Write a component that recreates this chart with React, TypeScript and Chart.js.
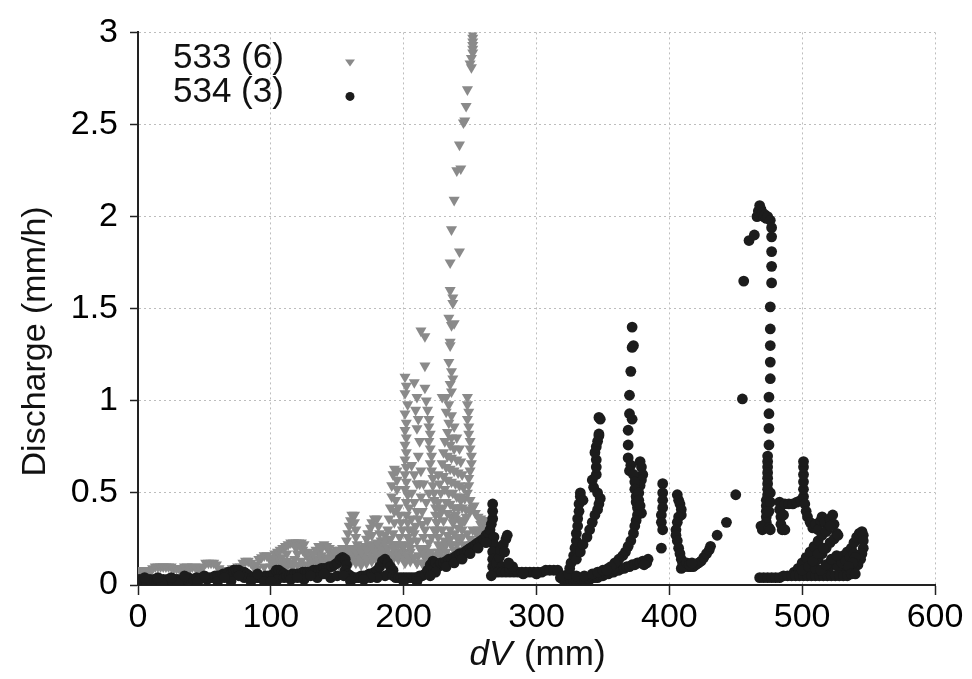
import { useEffect, useRef } from 'react';
import { Chart, registerables } from 'chart.js';

Chart.register(...registerables);

const seriesNames = ['533 (6)', '534 (3)'];
const xTitleItalic = 'dV';
const xTitleRest = ' (mm)';
const yTitle = 'Discharge (mm/h)';
const xMin = 0, xMax = 600, xStep = 100;
const yMin = 0, yMax = 3, yStep = 0.5;

type P = [number, number];

// ---- Series 533 (6): grey down-triangles ----
const g533Low: P[] = [
  [0,0.06],[1,0.08],[3,0.05],[4,0.07],[6,0.06],[7,0.08],[9,0.07],[11,0.09],[13,0.1],[15,0.1],[17,0.1],[19,0.1],
  [21,0.1],[23,0.1],[25,0.1],[27,0.09],[29,0.09],[31,0.09],[33,0.09],[35,0.1],[37,0.1],[39,0.09],[41,0.1],[43,0.1],
  [45,0.08],[47,0.09],[49,0.1],[51,0.12],[53,0.12],[55,0.12],[57,0.12],[59,0.11],[61,0.09],[63,0.08],[65,0.08],
  [67,0.08],[69,0.08],[71,0.09],[73,0.09],[75,0.1],[77,0.1],[79,0.12],[81,0.13],[83,0.13],[85,0.12],[87,0.1],
  [89,0.11],[91,0.14],[93,0.15],[95,0.16],[97,0.16],[99,0.15],[101,0.14],[103,0.17],[105,0.18],[107,0.19],
  [109,0.2],[111,0.21],[113,0.22],[115,0.23],[117,0.23],[119,0.23],[121,0.23],[123,0.23],[125,0.22],[119,0.2],
  [120,0.17],[118,0.14],[116,0.12],[110,0.12],[105,0.12],[100,0.1],[95,0.1],[90,0.09],[124,0.19],[126,0.17],
  [128,0.15],[104,0.14],[108,0.15],[112,0.17],[112,0.13],[123,0.13],[126,0.11],
];
const g533Mid: P[] = [
  [130,0.13],[132,0.12],[134,0.14],[136,0.17],[138,0.2],[140,0.22],[142,0.21],[144,0.18],[146,0.15],[148,0.13],
  [150,0.12],[152,0.13],[154,0.16],[156,0.2],[157,0.24],[158,0.28],[159,0.32],[160,0.35],[161,0.38],[163,0.38],
  [163,0.34],[164,0.3],[164,0.26],[165,0.22],[166,0.18],[168,0.15],[170,0.17],[171,0.21],[172,0.25],[173,0.28],
  [175,0.31],[176,0.34],[178,0.36],[180,0.36],[181,0.32],[182,0.28],[183,0.24],[184,0.21],[186,0.2],[187,0.24],
  [188,0.3],[189,0.36],[190,0.42],[191,0.48],[191,0.54],[192,0.6],[193,0.63],[195,0.62],[195,0.57],[195,0.52],
  [194,0.46],[193,0.4],[193,0.34],[192,0.28],[191,0.22],[190,0.17],
  [132,0.09],[136,0.1],[140,0.1],[144,0.11],[148,0.1],[152,0.1],[156,0.11],[160,0.12],[164,0.12],[168,0.11],
  [172,0.12],[176,0.13],[180,0.13],[184,0.14],[188,0.13],[192,0.14],[196,0.14],[200,0.15],[140,0.15],[145,0.14],
  [150,0.16],[170,0.15],[175,0.18],[178,0.22],[180,0.2],[185,0.17],[196,0.18],[198,0.22],
  [130,0.16],[134,0.19],[138,0.16],[142,0.14],[146,0.18],[150,0.19],[154,0.12],[158,0.16],[162,0.2],[166,0.14],
  [170,0.2],[174,0.22],[178,0.18],[182,0.16],[186,0.16],[190,0.25],[194,0.22],[197,0.26],[199,0.3],[198,0.34],
  [197,0.38],[196,0.42],[186,0.27],[185,0.24],[176,0.27],[168,0.2],[162,0.16],[158,0.2],[154,0.2],
];
const g533Fill: P[] = [
  [100,0.13],[104,0.12],[108,0.11],[112,0.1],[116,0.1],[120,0.11],[124,0.1],[128,0.11],[132,0.12],[136,0.13],
  [140,0.12],[144,0.13],[148,0.15],[152,0.15],[156,0.14],[160,0.15],[164,0.14],[168,0.13],[172,0.14],[176,0.15],
  [180,0.16],[184,0.17],[188,0.16],[192,0.17],[196,0.16],[200,0.18],
  [128,0.18],[132,0.17],[136,0.21],[144,0.2],[148,0.18],[152,0.19],[156,0.17],[160,0.19],[164,0.18],[168,0.18],
  [172,0.19],[176,0.21],[180,0.23],[184,0.19],[188,0.2],[192,0.2],[196,0.22],[200,0.21],
];
const g533Columns: P[] = [
  [201,1.13],[202,1.08],[201,1.04],[203,0.98],[201,0.93],[202,0.88],[201,0.84],[202,0.8],[201,0.76],[202,0.72],
  [201,0.68],[202,0.64],[201,0.6],[202,0.56],[201,0.52],[203,0.49],[202,0.45],[204,0.42],[202,0.38],[203,0.34],
  [204,0.3],[203,0.26],[204,0.22],[205,0.18],[206,0.15],
  [208,1.1],[210,1.02],[209,0.95],[211,0.9],[210,0.85],[212,0.78],[211,0.7],[213,0.62],[212,0.55],[213,0.48],
  [214,0.4],[214,0.33],[215,0.26],[216,0.2],[216,0.15],
  [213,1.38],[216,1.35],[216,1.19],[216,1.07],[217,1.0],[218,0.95],[219,0.9],[219,0.86],[220,0.82],[219,0.78],
  [220,0.74],[221,0.7],[220,0.66],[221,0.62],[222,0.58],[222,0.54],[223,0.5],[223,0.46],[224,0.42],[224,0.38],
  [225,0.34],[225,0.3],[226,0.26],[226,0.22],[227,0.18],[227,0.15],
];
const g533Mass: P[] = [
  [229,1.02],[232,1.02],[234,0.98],[232,0.94],[236,0.92],[234,0.88],[238,0.86],[233,0.83],[236,0.8],[240,0.8],
  [231,0.78],[235,0.76],[238,0.74],[242,0.74],[230,0.72],[233,0.7],[236,0.69],[240,0.68],[243,0.67],[229,0.66],
  [232,0.64],[235,0.63],[238,0.62],[241,0.61],[244,0.6],[230,0.59],[233,0.57],[236,0.56],[239,0.55],[242,0.54],
  [245,0.53],[231,0.52],[234,0.5],[237,0.5],[240,0.48],[243,0.48],[246,0.47],[232,0.45],[235,0.44],[238,0.42],
  [241,0.42],[244,0.42],[247,0.41],[233,0.39],[236,0.37],[239,0.36],[242,0.35],
  [248,1.02],[248,0.98],[249,0.94],[248,0.9],[249,0.86],[249,0.82],[250,0.78],[250,0.74],[251,0.7],[251,0.66],
  [250,0.62],[249,0.58],[249,0.54],[248,0.5],
  [206,0.5],[208,0.45],[210,0.4],[206,0.36],[208,0.6],[210,0.55],[206,0.65],[215,0.55],[217,0.45],[218,0.35],
  [216,0.3],[219,0.5],[226,0.45],[228,0.5],[227,0.55],[228,0.4],[229,0.3],[230,0.35],[226,0.6],
];
const g533Tower: P[] = [
  [252,2.99],[252,2.97],[252,2.95],[252,2.93],[252,2.91],[252,2.89],[251,2.86],[250,2.83],[251,2.81],[248,2.69],
  [247,2.6],[245,2.51],[246,2.52],[242,2.39],[240,2.25],[243,2.26],[238,2.09],[236,1.93],[242,1.81],[235,1.75],
  [235,1.6],[237,1.56],[237,1.53],[234,1.45],[236,1.41],[238,1.42],[235,1.32],[235,1.3],[234,1.21],[236,1.16],
  [237,1.12],[235,1.09],[236,1.05],
];
const g533Tail: P[] = [
  [250,0.46],[252,0.42],[254,0.39],[256,0.37],[258,0.36],[260,0.35],[262,0.35],[264,0.35],[265,0.34],
  [263,0.3],[260,0.28],[257,0.26],[254,0.24],[251,0.22],[248,0.2],[245,0.18],[242,0.17],[239,0.15],[236,0.14],
  [233,0.13],[230,0.12],
  [243,0.46],[241,0.42],[239,0.38],[237,0.34],[235,0.3],[233,0.27],[231,0.24],[229,0.21],[226,0.18],[223,0.16],
  [220,0.14],[217,0.12],
  [211,0.36],[209,0.32],[208,0.28],[206,0.24],[205,0.2],[203,0.16],[201,0.12],
  [246,0.35],[244,0.3],[242,0.26],[240,0.22],[238,0.19],
  [205,0.13],[210,0.12],[215,0.11],[220,0.11],[225,0.12],[230,0.14],[235,0.16],[240,0.19],[245,0.22],[250,0.25],
  [255,0.28],[260,0.31],
  [253,0.43],[250,0.4],[247,0.37],[244,0.34],[241,0.31],[238,0.28],[235,0.25],[232,0.22],[229,0.19],[226,0.16],
  [222,0.14],[218,0.13],[214,0.12],[210,0.12],
  [229,0.42],[227,0.38],[225,0.34],[223,0.3],[221,0.26],[219,0.23],[217,0.2],[214,0.18],[211,0.16],[208,0.15],
  [258,0.33],[262,0.32],[256,0.3],[252,0.3],[248,0.28],[244,0.26],[240,0.26],[236,0.22],[232,0.18],[228,0.15],
  [224,0.14],[220,0.18],[216,0.16],[212,0.2],[210,0.24],[207,0.3],
];

// ---- Series 534 (3): black dots ----
const b534Base1: P[] = [
  [0,0.02],[1,0.03],[3,0.02],[4,0.03],[6,0.02],[7,0.01],[9,0.03],[10,0.02],[12,0.03],[14,0.02],[15,0.03],[17,0.02],
  [19,0.03],[20,0.02],[22,0.03],[24,0.03],[26,0.02],[28,0.03],[30,0.03],[32,0.02],[34,0.03],[36,0.03],[38,0.04],
  [40,0.03],[42,0.03],[44,0.04],[46,0.03],[48,0.04],[50,0.04],[52,0.03],[54,0.04],[56,0.04],[58,0.05],[60,0.05],
  [62,0.05],[64,0.06],[66,0.06],[68,0.07],[70,0.06],[72,0.08],[74,0.08],[76,0.08],[78,0.07],[80,0.07],[82,0.06],
  [84,0.05],[80,0.04],[76,0.05],[86,0.04],[88,0.04],[90,0.04],[92,0.04],[94,0.04],[96,0.05],[98,0.05],[100,0.05],
  [102,0.06],[104,0.08],[106,0.08],[108,0.07],[110,0.06],[18,0.01],[30,0.01],[45,0.02],[60,0.02],[70,0.02],
  [85,0.02],[95,0.02],[105,0.03],
  [5,0.04],[15,0.04],[25,0.04],[35,0.05],[50,0.05],[65,0.04],[90,0.06],[110,0.04],[100,0.02],
];
const b534Base2: P[] = [
  [112,0.05],[114,0.05],[116,0.06],[118,0.06],[120,0.06],[122,0.06],[124,0.07],[126,0.07],[128,0.07],[130,0.07],
  [132,0.08],[134,0.08],[136,0.08],[138,0.09],[140,0.09],[142,0.09],[144,0.1],[146,0.1],[148,0.11],[150,0.12],
  [152,0.14],[154,0.15],[156,0.14],[157,0.11],[156,0.08],[158,0.06],[160,0.05],[162,0.04],[164,0.04],[166,0.04],
  [168,0.05],[170,0.05],[172,0.05],[174,0.06],[176,0.06],[178,0.07],[180,0.08],[182,0.1],[184,0.13],[186,0.14],
  [188,0.12],[190,0.1],[192,0.08],[189,0.06],[186,0.05],[192,0.05],[194,0.04],[196,0.04],[198,0.04],[200,0.04],
  [202,0.04],[204,0.04],[206,0.04],[208,0.04],[210,0.04],[212,0.05],[214,0.05],[216,0.06],[218,0.08],[220,0.11],
  [222,0.13],[224,0.12],[226,0.1],[224,0.07],[220,0.05],[125,0.03],[135,0.04],[145,0.04],[150,0.05],[155,0.05],
  [115,0.03],[180,0.04],[175,0.04],[120,0.04],[130,0.05],[140,0.06],[160,0.02],[170,0.03],[200,0.02],[210,0.02],
];
const b534Rise: P[] = [
  [228,0.12],[230,0.12],[232,0.13],[234,0.14],[236,0.14],[238,0.15],[240,0.16],[242,0.17],[244,0.17],[246,0.18],
  [248,0.19],[250,0.2],[252,0.21],[254,0.22],[256,0.23],[258,0.24],[260,0.25],[262,0.27],[264,0.28],[265,0.3],
  [266,0.33],[267,0.36],[267,0.4],[267,0.44],[268,0.26],[268,0.22],[267,0.18],[267,0.14],[267,0.1],[270,0.12],
  [272,0.15],[273,0.19],[275,0.22],[277,0.25],[278,0.27],[276,0.18],[274,0.1],[268,0.07],[271,0.07],[274,0.07],
  [277,0.07],[280,0.07],[283,0.07],[286,0.07],[289,0.07],[292,0.07],[295,0.07],[298,0.07],[301,0.07],[304,0.07],
  [307,0.08],[310,0.08],[313,0.08],[316,0.08],[280,0.09],[282,0.1],[279,0.12],[266,0.05],[290,0.06],[300,0.06],
  [232,0.1],[238,0.12],[244,0.14],[250,0.17],[256,0.2],[262,0.23],
];
const b534Peaks23: P[] = [
  [318,0.04],[320,0.03],[322,0.02],[324,0.02],[326,0.02],[328,0.02],[330,0.02],[332,0.03],[334,0.03],[336,0.03],
  [338,0.03],[340,0.03],[342,0.04],[344,0.04],[346,0.04],[348,0.05],[350,0.05],[352,0.06],[354,0.06],[356,0.07],
  [358,0.07],[360,0.08],[362,0.08],[364,0.09],[366,0.09],[368,0.1],[370,0.1],[372,0.11],[374,0.11],[376,0.12],
  [378,0.12],[380,0.13],[382,0.13],[384,0.14],[320,0.05],[324,0.06],[330,0.05],[336,0.05],[342,0.06],[346,0.07],
  [350,0.08],[354,0.09],[358,0.09],
  [325,0.09],[326,0.12],[328,0.16],[329,0.2],[330,0.24],[330,0.28],[331,0.32],[331,0.36],[332,0.4],[332,0.44],
  [333,0.48],[333,0.5],[335,0.46],
  [330,0.14],[333,0.18],[335,0.22],[338,0.26],[340,0.3],[342,0.34],[344,0.38],[346,0.41],[347,0.44],[348,0.47],
  [346,0.5],[343,0.53],[342,0.57],[345,0.6],[345,0.64],[345,0.68],[344,0.72],[345,0.75],[347,0.82],[347,0.81],
  [346,0.78],[347,0.91],[348,0.9],
  [372,1.4],[373,1.3],[372,1.29],[371,1.16],[370,1.03],[370,0.93],[372,0.9],[369,0.84],[369,0.76],[369,0.69],
  [371,0.65],[370,0.62],[378,0.67],[379,0.64],[380,0.6],[379,0.57],[378,0.54],[373,0.6],[374,0.56],[374,0.52],
  [375,0.48],[375,0.45],[376,0.42],[377,0.5],[377,0.46],[378,0.43],[379,0.39],[376,0.38],[375,0.35],[374,0.32],
  [373,0.28],[371,0.24],[369,0.21],[367,0.18],[365,0.16],[362,0.14],[359,0.12],[356,0.1],[353,0.08],[383,0.12],
  [381,0.11],
];
const b534Peak4: P[] = [
  [395,0.55],[395,0.5],[395,0.46],[395,0.42],[394,0.38],[394,0.34],[395,0.3],[394,0.2],[406,0.49],[407,0.46],
  [408,0.44],[409,0.41],[409,0.38],[407,0.37],[406,0.34],[405,0.3],[405,0.27],[406,0.24],[407,0.2],[408,0.17],
  [409,0.14],[410,0.12],[412,0.11],[414,0.1],[416,0.1],[418,0.1],[420,0.11],[422,0.12],[424,0.13],[426,0.15],
  [428,0.17],[430,0.19],[431,0.21],[436,0.27],[443,0.34],[450,0.49],[409,0.09],[411,0.1],[413,0.12],[415,0.11],
  [417,0.12],
];
const b534Peak5: P[] = [
  [455,1.01],[456,1.65],[460,1.87],[464,1.9],[466,2.0],[467,2.03],[468,2.06],[469,2.04],[470,2.02],[471,2.0],
  [472,2.01],[473,1.99],[474,2.0],[476,1.98],[477,1.94],[477,1.89],[477,1.81],[477,1.73],[477,1.64],[476,1.51],
  [476,1.39],[476,1.3],[476,1.21],[476,1.12],[475,1.02],[475,0.93],[475,0.85],[475,0.76],[474,0.7],[474,0.67],
  [474,0.64],[474,0.61],[474,0.58],[474,0.55],[474,0.52],[474,0.49],[473,0.46],[473,0.43],[473,0.4],[473,0.37],
  [473,0.34],[472,0.31],[470,0.3],[469,0.32],[475,0.31],[476,0.3],[476,0.5],[476,0.45],[475,0.4],
];
const b534Peak6: P[] = [
  [483,0.45],[483,0.41],[484,0.37],[484,0.33],[485,0.3],[487,0.3],[486,0.38],[487,0.44],[490,0.44],[493,0.44],
  [496,0.45],[499,0.46],[501,0.48],[501,0.52],[501,0.56],[501,0.6],[501,0.64],[501,0.67],[502,0.44],[503,0.4],
  [504,0.37],[506,0.34],[508,0.31],[510,0.33],[512,0.3],[514,0.35],[515,0.37],[517,0.34],[519,0.3],[521,0.36],
  [523,0.38],[524,0.33],[526,0.28],
  [494,0.07],[497,0.09],[500,0.12],[503,0.15],[506,0.18],[509,0.21],[512,0.24],[515,0.27],[518,0.29],[521,0.32],
  [503,0.06],[506,0.08],[509,0.11],[512,0.14],[515,0.17],[518,0.2],[521,0.23],[524,0.25],[527,0.27],
  [516,0.07],[520,0.09],[524,0.12],[528,0.14],[531,0.16],[534,0.18],[537,0.2],[539,0.23],[541,0.26],[543,0.28],
  [545,0.29],[546,0.27],[546,0.24],[546,0.2],[545,0.17],[544,0.14],[542,0.11],[539,0.09],[536,0.07],[532,0.07],
  [527,0.1],[530,0.12],[533,0.13],[536,0.15],[539,0.17],[540,0.15],[538,0.12],[535,0.1],
  [468,0.04],[471,0.04],[474,0.04],[477,0.04],[480,0.04],[483,0.04],[486,0.05],[489,0.05],[492,0.05],[495,0.05],
  [498,0.05],[501,0.05],[504,0.05],[507,0.05],[510,0.05],[513,0.05],[516,0.05],[519,0.05],[522,0.05],[525,0.05],
  [528,0.05],[531,0.05],[534,0.05],[537,0.06],[540,0.06],[500,0.08],[505,0.1],[510,0.09],[514,0.08],[518,0.11],
  [522,0.14],[526,0.16],[508,0.13],[512,0.17],[516,0.2],
];

const series533 = [...g533Low, ...g533Mid, ...g533Fill, ...g533Columns, ...g533Mass, ...g533Tower, ...g533Tail];
const series534 = [...b534Base1, ...b534Base2, ...b534Rise, ...b534Peaks23, ...b534Peak4, ...b534Peak5, ...b534Peak6];

const GREY = '#8a8a8a';
const BLACK = '#1c1c1c';
const FONT = '"Liberation Sans", Arial, Helvetica, sans-serif';

const toXY = (arr: P[]) => arr.map(([x, y]) => ({ x, y }));

const annotationPlugin = {
  id: 'customText',
  afterDraw(chart: any) {
    const { ctx, chartArea } = chart;
    ctx.save();
    // legend
    ctx.font = `35px ${FONT}`;
    ctx.fillStyle = '#111';
    ctx.textBaseline = 'middle';
    ctx.textAlign = 'left';
    const lx = chartArea.left + 35;
    const ly1 = chartArea.top + 26;
    const ly2 = chartArea.top + 60;
    ctx.fillText(seriesNames[0], lx, ly1);
    ctx.fillText(seriesNames[1], lx, ly2);
    const mx = chartArea.left + 212;
    ctx.fillStyle = GREY;
    ctx.beginPath();
    ctx.moveTo(mx - 5, ly1 + 1);
    ctx.lineTo(mx + 5, ly1 + 1);
    ctx.lineTo(mx, ly1 + 8);
    ctx.closePath();
    ctx.fill();
    ctx.fillStyle = BLACK;
    ctx.beginPath();
    ctx.arc(mx, ly2 + 4, 4.5, 0, Math.PI * 2);
    ctx.fill();

    // x title, mixed italic
    ctx.fillStyle = '#111';
    ctx.textBaseline = 'alphabetic';
    const cx = (chartArea.left + chartArea.right) / 2;
    ctx.font = `italic 35px ${FONT}`;
    const w1 = ctx.measureText(xTitleItalic).width;
    ctx.font = `35px ${FONT}`;
    const w2 = ctx.measureText(xTitleRest).width;
    const startX = cx - (w1 + w2) / 2;
    const by = chart.height - 14;
    ctx.font = `italic 35px ${FONT}`;
    ctx.fillText(xTitleItalic, startX, by);
    ctx.font = `35px ${FONT}`;
    ctx.fillText(xTitleRest, startX + w1 + 2, by);

    // y title
    ctx.translate(36, chartArea.top + 309);
    ctx.rotate(-Math.PI / 2);
    ctx.textAlign = 'center';
    ctx.textBaseline = 'middle';
    ctx.font = `34px ${FONT}`;
    ctx.fillText(yTitle, 0, 0);
    ctx.restore();
  },
};

export default function App() {
  const canvasRef = useRef<HTMLCanvasElement | null>(null);

  useEffect(() => {
    if (!canvasRef.current) return;
    const chart = new Chart(canvasRef.current, {
      type: 'scatter',
      data: {
        datasets: [
          {
            label: seriesNames[0],
            data: toXY(series533),
            pointStyle: 'triangle',
            rotation: 180,
            pointRadius: 6.4,
            backgroundColor: GREY,
            borderColor: GREY,
            borderWidth: 0,
            order: 1,
          },
          {
            label: seriesNames[1],
            data: toXY(series534),
            pointStyle: 'circle',
            pointRadius: 5.4,
            backgroundColor: BLACK,
            borderColor: BLACK,
            borderWidth: 0,
            order: 0,
          },
        ],
      },
      options: {
        animation: false,
        responsive: true,
        maintainAspectRatio: false,
        devicePixelRatio: 1,
        layout: { padding: { left: 0, top: 23, right: 37, bottom: 0 } },
        plugins: {
          legend: { display: false },
          tooltip: { enabled: false },
        },
        scales: {
          x: {
            type: 'linear',
            min: xMin,
            max: xMax,
            ticks: { stepSize: xStep, color: '#000', font: { family: FONT, size: 34 }, padding: 2, maxRotation: 0 },
            grid: { color: '#bdbdbd', lineWidth: 1, tickColor: '#222', tickLength: 10, tickWidth: 1.5 },
            border: { display: true, color: '#222', width: 2, dash: [2, 3] },
            afterFit: (scale: any) => { scale.height = 94; },
          },
          y: {
            type: 'linear',
            min: yMin,
            max: yMax,
            ticks: {
              stepSize: yStep,
              color: '#000',
              font: { family: FONT, size: 34 },
              padding: 12,
              callback: (v: any) => String(Number(v)),
            },
            grid: { color: '#bdbdbd', lineWidth: 1, tickColor: '#222', tickLength: 8, tickWidth: 1.5 },
            border: { display: true, color: '#222', width: 2, dash: [2, 3] },
            afterFit: (scale: any) => { scale.width = 138; },
          },
        },
      },
      plugins: [annotationPlugin],
    });
    return () => chart.destroy();
  }, []);

  return (
    <div style={{ position: 'absolute', left: 0, top: 0, width: 972, height: 679, background: '#fff' }}>
      <canvas ref={canvasRef} />
    </div>
  );
}
